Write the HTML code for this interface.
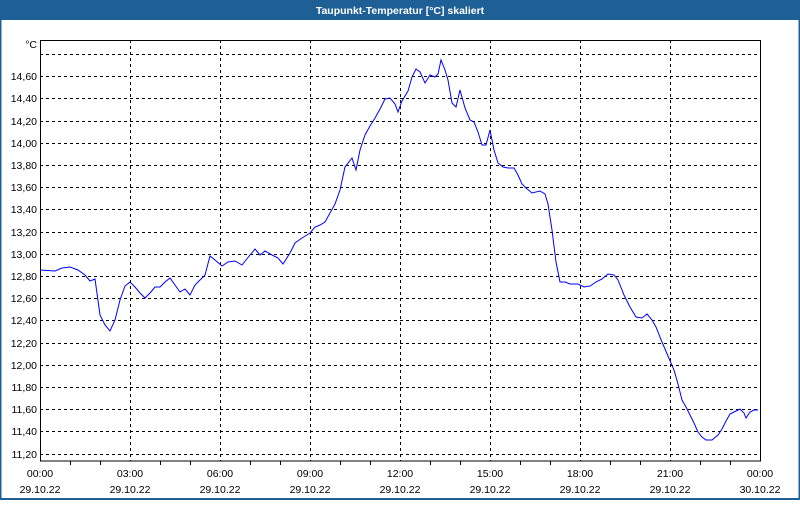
<!DOCTYPE html>
<html><head><meta charset="utf-8"><style>
body{margin:0;width:800px;height:500px;overflow:hidden;background:#fff;font-family:"Liberation Sans",sans-serif;}
</style></head><body>
<svg width="800" height="500" xmlns="http://www.w3.org/2000/svg" font-family="'Liberation Sans',sans-serif" font-size="10.5">
<rect x="0" y="0" width="800" height="500" fill="#fff"/>
<rect x="0" y="0" width="800" height="20" fill="#1e5f96"/>
<rect x="0" y="0" width="1.5" height="500" fill="#1e5f96"/>
<rect x="798.5" y="0" width="1.5" height="500" fill="#1e5f96"/>
<rect x="0" y="498" width="800" height="2" fill="#1e5f96"/>
<text x="400" y="14" fill="#fff" text-anchor="middle" font-weight="bold" font-size="10.5">Taupunkt-Temperatur [°C] skaliert</text>
<g stroke="#000" stroke-dasharray="3,3" stroke-width="1">
<line x1="40" x2="760" y1="54.5" y2="54.5"/>
<line x1="40" x2="760" y1="76.5" y2="76.5"/><line x1="40" x2="760" y1="98.5" y2="98.5"/>
<line x1="40" x2="760" y1="121.5" y2="121.5"/><line x1="40" x2="760" y1="143.5" y2="143.5"/>
<line x1="40" x2="760" y1="165.5" y2="165.5"/><line x1="40" x2="760" y1="187.5" y2="187.5"/>
<line x1="40" x2="760" y1="209.5" y2="209.5"/><line x1="40" x2="760" y1="232.5" y2="232.5"/>
<line x1="40" x2="760" y1="254.5" y2="254.5"/><line x1="40" x2="760" y1="276.5" y2="276.5"/>
<line x1="40" x2="760" y1="298.5" y2="298.5"/><line x1="40" x2="760" y1="320.5" y2="320.5"/>
<line x1="40" x2="760" y1="343.5" y2="343.5"/><line x1="40" x2="760" y1="365.5" y2="365.5"/>
<line x1="40" x2="760" y1="387.5" y2="387.5"/><line x1="40" x2="760" y1="409.5" y2="409.5"/>
<line x1="40" x2="760" y1="431.5" y2="431.5"/><line x1="40" x2="760" y1="454.5" y2="454.5"/>
<line x1="130.5" x2="130.5" y1="40" y2="461"/><line x1="220.5" x2="220.5" y1="40" y2="461"/>
<line x1="310.5" x2="310.5" y1="40" y2="461"/><line x1="400.5" x2="400.5" y1="40" y2="461"/>
<line x1="490.5" x2="490.5" y1="40" y2="461"/><line x1="580.5" x2="580.5" y1="40" y2="461"/>
<line x1="670.5" x2="670.5" y1="40" y2="461"/>
</g>
<rect x="40.5" y="40.5" width="720" height="420.5" fill="none" stroke="#000" stroke-width="1"/>
<g stroke="#000">
<line x1="70.5" x2="70.5" y1="461" y2="465"/><line x1="100.5" x2="100.5" y1="461" y2="465"/>
<line x1="160.5" x2="160.5" y1="461" y2="465"/><line x1="190.5" x2="190.5" y1="461" y2="465"/>
<line x1="250.5" x2="250.5" y1="461" y2="465"/><line x1="280.5" x2="280.5" y1="461" y2="465"/>
<line x1="340.5" x2="340.5" y1="461" y2="465"/><line x1="370.5" x2="370.5" y1="461" y2="465"/>
<line x1="430.5" x2="430.5" y1="461" y2="465"/><line x1="460.5" x2="460.5" y1="461" y2="465"/>
<line x1="520.5" x2="520.5" y1="461" y2="465"/><line x1="550.5" x2="550.5" y1="461" y2="465"/>
<line x1="610.5" x2="610.5" y1="461" y2="465"/><line x1="640.5" x2="640.5" y1="461" y2="465"/>
<line x1="700.5" x2="700.5" y1="461" y2="465"/><line x1="730.5" x2="730.5" y1="461" y2="465"/>
</g>
<g text-anchor="end" fill="#000">
<text x="37" y="48">°C</text>
<text x="37" y="80">14,60</text><text x="37" y="102">14,40</text><text x="37" y="125">14,20</text>
<text x="37" y="147">14,00</text><text x="37" y="169">13,80</text><text x="37" y="191">13,60</text>
<text x="37" y="213">13,40</text><text x="37" y="236">13,20</text><text x="37" y="258">13,00</text>
<text x="37" y="280">12,80</text><text x="37" y="302">12,60</text><text x="37" y="324">12,40</text>
<text x="37" y="347">12,20</text><text x="37" y="369">12,00</text><text x="37" y="391">11,80</text>
<text x="37" y="413">11,60</text><text x="37" y="435">11,40</text><text x="37" y="458">11,20</text>
</g>
<g text-anchor="middle" fill="#000">
<text x="40" y="477">00:00</text><text x="40" y="493">29.10.22</text>
<text x="130" y="477">03:00</text><text x="130" y="493">29.10.22</text>
<text x="220" y="477">06:00</text><text x="220" y="493">29.10.22</text>
<text x="310" y="477">09:00</text><text x="310" y="493">29.10.22</text>
<text x="400" y="477">12:00</text><text x="400" y="493">29.10.22</text>
<text x="490" y="477">15:00</text><text x="490" y="493">29.10.22</text>
<text x="580" y="477">18:00</text><text x="580" y="493">29.10.22</text>
<text x="670" y="477">21:00</text><text x="670" y="493">29.10.22</text>
<text x="760" y="477">00:00</text><text x="760" y="493">30.10.22</text>
</g>
<polyline fill="none" stroke="#0000ff" stroke-width="1" points="40,270 55,271 62,268 70,267 78,270 85,275 90,281 95,279 100,315 105,325 110,331 115,320 120,300 125,286 130,282 135,287 140,293 145,298 150,293 155,287 160,287 165,282 170,278 175,285 180,292 185,289 190,295 195,285 200,280 205,275 210,256 215,260 222,266 228,262 235,261 242,265 250,255 255,249 260,255 265,251 272,255 278,258 283,264 290,253 295,243 302,238 310,233 315,227 320,225 325,222 330,213 335,204 340,190 345,167 352,158 356,170 360,150 365,135 370,126 375,118 380,109 385,99 390,98 395,104 398,112 402,101 408,91 412,77 416,69 420,72 425,83 430,75 435,77 438,74 441,60 445,70 448,80 452,103 456,107 460,90 465,108 470,120 474,122 478,132 482,145 486,145 490,130 494,150 498,163 503,167 508,168 514,168 518,175 522,184 526,188 532,193 540,191 545,194 548,204 552,230 556,262 560,282 565,282 570,284 578,284 584,287 590,286 596,282 602,279 608,274 614,275 618,280 624,295 630,307 636,317 642,318 647,314 652,320 656,327 662,342 668,356 674,370 678,384 682,400 686,407 690,415 694,423 698,432 702,437 706,440 712,440 718,435 722,429 726,421 730,414 736,411 740,409 744,413 746,418 750,412 754,410 758,410"/>
</svg>
</body></html>
